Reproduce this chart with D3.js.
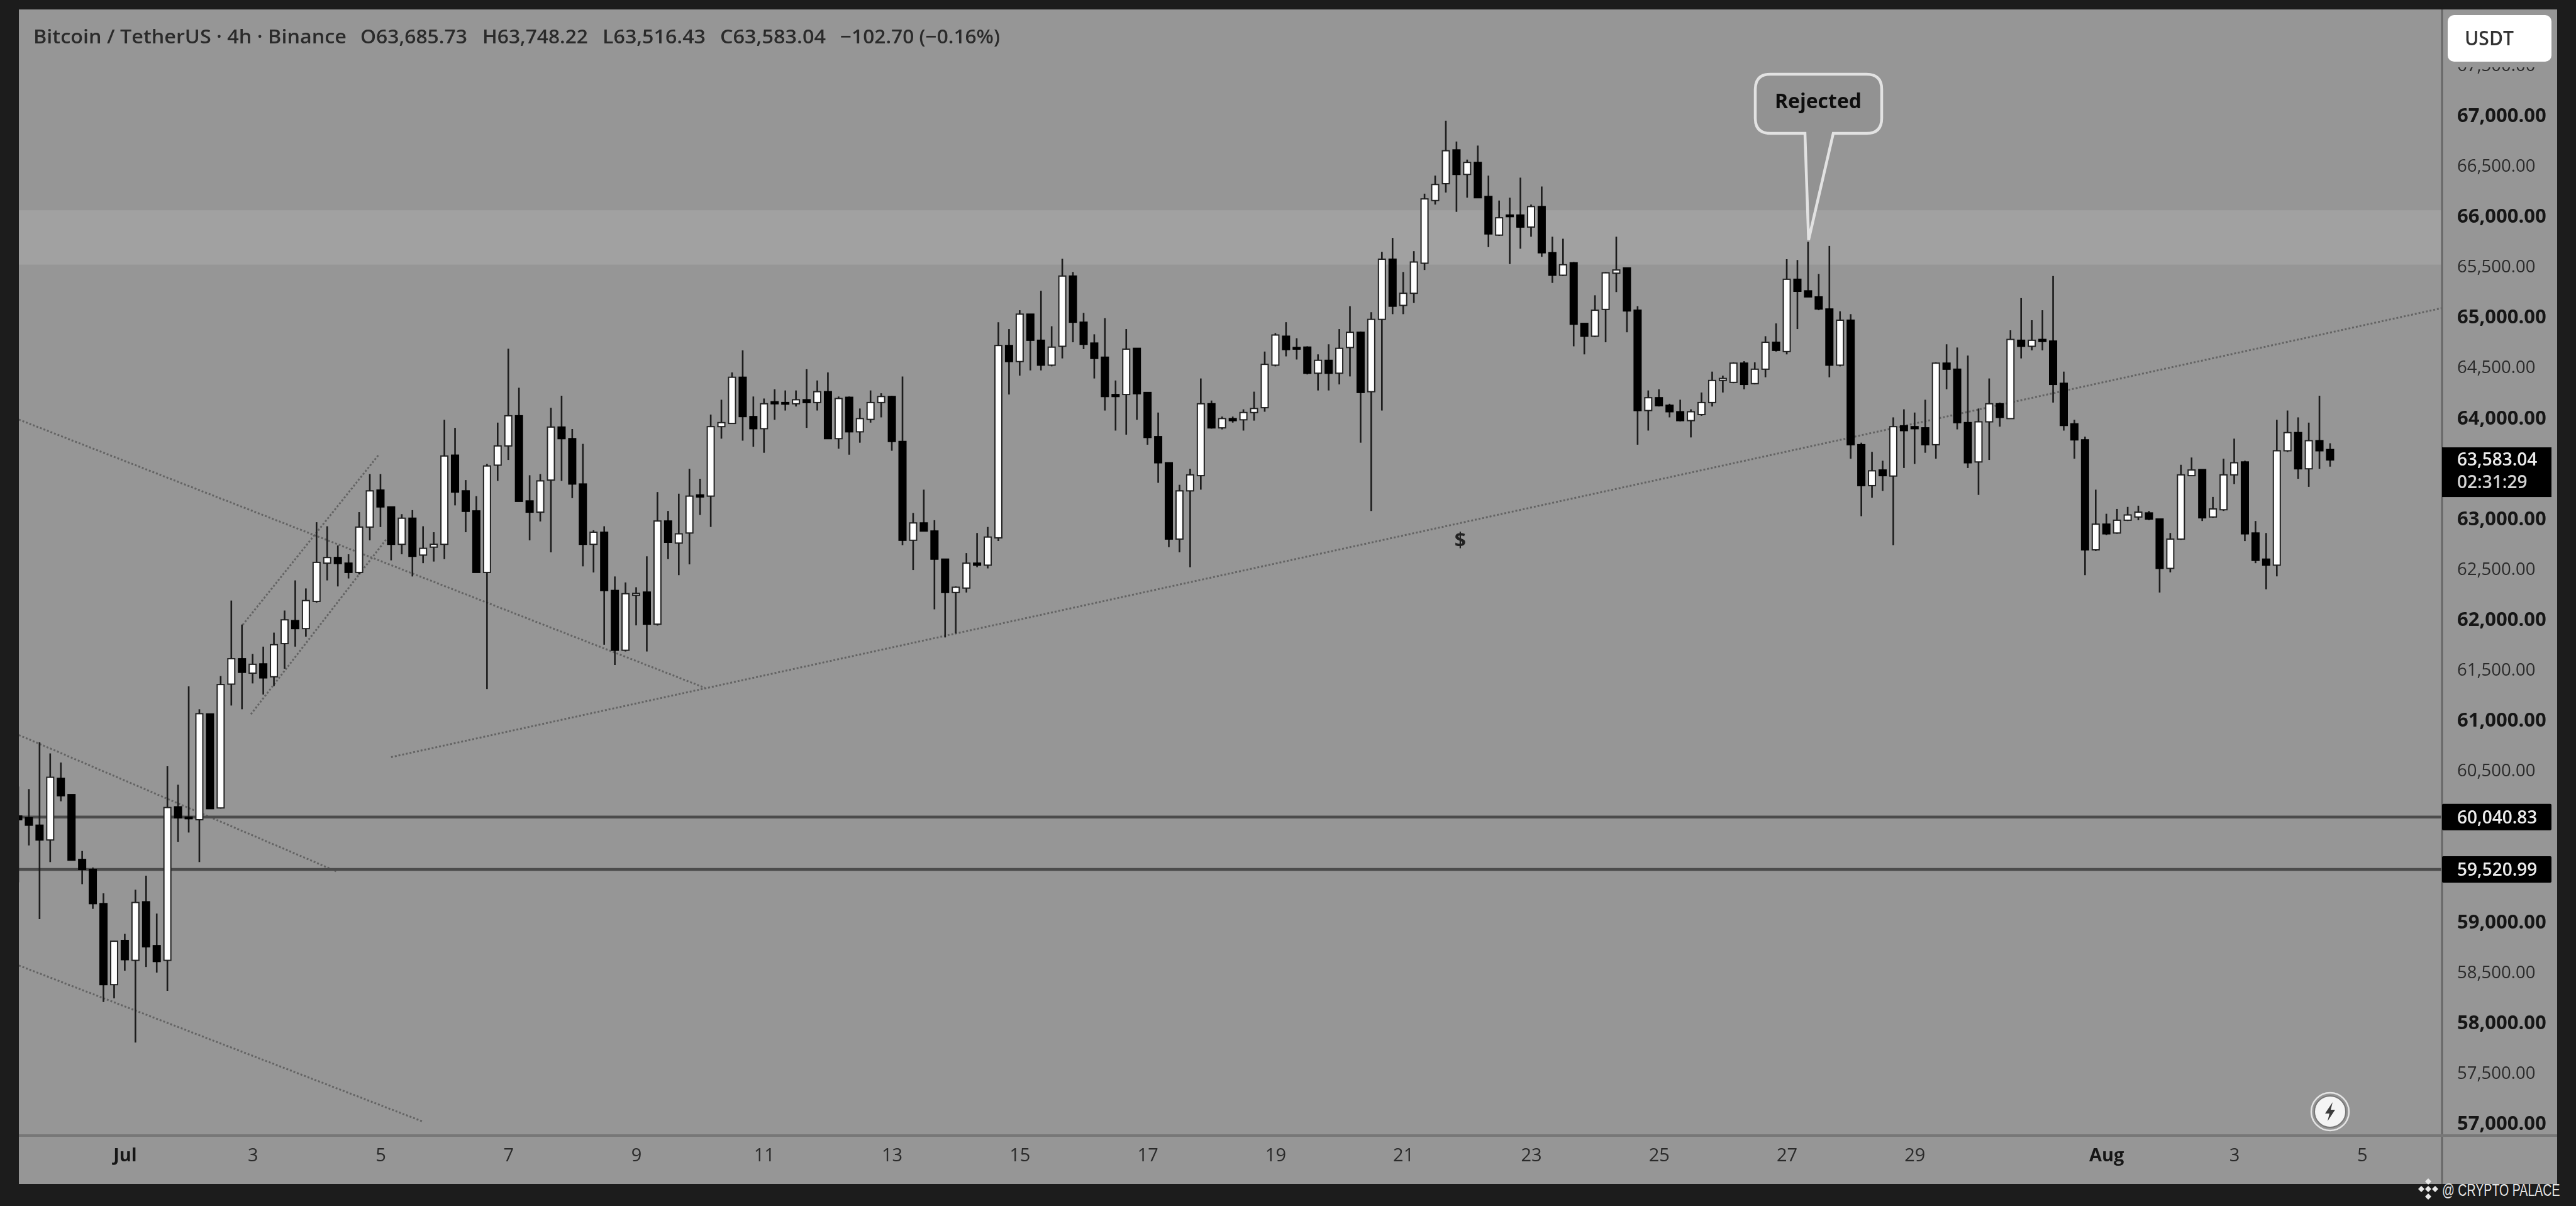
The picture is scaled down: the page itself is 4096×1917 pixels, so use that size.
<!DOCTYPE html>
<html>
<head>
<meta charset="utf-8">
<script src="https://cdn.jsdelivr.net/npm/d3@7"></script>
<style>
  html, body { margin: 0; padding: 0; background: #1c1c1c; overflow: hidden; }
  svg { display: block; }
  text { font-family: "Open Sans", "Noto Sans", sans-serif; }
</style>
</head>
<body>
<div id="chart"></div>
<script>
// 4h candles, first one is clipped by the left edge
const opens = [
  60051,60033,59960,59813,60424,60263,59620,59521,59182,58378,
  58816,58619,59200,58765,58619,60142,60040,60014,61063,60131,
  61359,61611,61468,61560,61432,61761,61989,61910,62180,62559,
  62615,62559,62467,62917,63284,63117,62746,63005,62639,62718,
  62746,63630,63276,63077,62467,63531,63722,64021,63176,63065,
  63383,63909,63794,63344,62746,62866,62288,61695,62241,62272,
  61954,62977,62758,62858,63236,63224,63913,63945,64403,64013,
  63893,64160,64152,64140,64180,64152,64260,63794,64204,63862,
  63985,64152,64212,63766,62786,62958,62878,62599,62268,62312,
  62559,62539,62810,64718,64559,65029,64770,64523,64710,65407,
  64949,64742,64602,64232,64232,64690,64252,63814,63555,62798,
  63276,63427,64140,63901,63993,63981,64053,64101,64523,64810,
  64698,64702,64443,64571,64443,64698,64849,64260,64977,65574,
  65116,65236,65534,66156,66323,66658,66415,66534,66196,65813,
  66012,66012,65893,66096,65638,65415,65538,64937,64810,65076,
  65435,65487,65068,64073,64200,64125,64061,63973,64033,64152,
  64371,64352,64543,64340,64483,64750,64658,65375,65260,65200,
  65080,64523,64969,63734,63328,63483,63423,63921,63913,63901,
  63734,64543,64483,63953,63563,63961,64140,63993,64770,64710,
  64778,64762,64343,63941,63782,62691,62946,62858,62985,63017,
  63057,62997,62507,62798,63427,63487,63017,63089,63435,63563,
  62858,62599,62539,63674,63854,63495,63774,63685.73
];
const highs = [
  60343,60318,60782,60672,60581,60263,59704,59540,59284,58816,
  58882,59320,59459,59083,60544,60361,61337,61110,61063,61439,
  62188,61950,61658,61731,61870,62089,62388,62308,62965,62925,
  62734,62647,63065,63443,63443,63117,63045,63085,62925,62866,
  63981,63901,63383,63224,63543,63953,64686,64299,63431,63443,
  64100,64220,63889,63742,62885,62925,62427,62368,62320,62627,
  63264,63077,63248,63495,63396,64033,64180,64451,64670,64212,
  64192,64284,64272,64272,64483,64371,64451,64212,64212,64093,
  64272,64244,64220,64411,63057,63288,62985,62599,62328,62659,
  62858,62918,64949,64881,65068,65029,65260,64909,65578,65447,
  65041,64829,64989,64371,64881,64690,64252,64053,63555,63336,
  63495,64391,64172,64013,64013,64085,64260,64658,64841,64949,
  64790,64710,64630,64730,64881,65108,64857,65049,65646,65785,
  65447,65654,66224,66403,66948,66741,66562,66701,66403,66156,
  66184,66383,66116,66295,65797,65777,65546,64937,65216,65447,
  65797,65487,65108,64272,64284,64140,64180,64085,64252,64459,
  64419,64551,64563,64551,64810,64937,65574,65566,65746,65427,
  65706,65057,65029,63754,63663,63575,64005,64085,64053,64180,
  64551,64730,64698,64618,64093,64391,64152,64869,65188,64969,
  65068,65407,64459,63981,63814,63288,63049,63097,63117,63129,
  63077,62997,62858,63535,63607,63487,63216,63595,63794,63575,
  62977,62858,63981,64073,64005,63953,64220,63748.22
];
const lows = [
  59393,59759,59028,59594,60197,59613,59375,59130,58206,58243,
  58517,57804,58553,58498,58316,59795,59887,59594,60124,60124,
  61147,61110,61366,61256,61340,61512,61731,61830,62168,62388,
  62328,62407,62447,62786,62917,62587,62647,62427,62559,62575,
  62599,63132,62866,62467,61311,63375,63583,63172,62786,62973,
  62666,63375,63204,62527,62467,61750,61549,61683,61942,61683,
  61940,62599,62440,62547,63037,62918,63794,63945,63774,63714,
  63654,63981,64073,64113,63901,64073,63794,63694,63635,63754,
  63953,64005,63674,62738,62491,62878,62101,61822,61862,62268,
  62519,62507,62778,64232,64419,64471,64471,64511,64590,64750,
  64682,64391,64073,63874,63834,63981,63734,63356,62718,62667,
  62519,63288,63893,63886,63953,63874,63973,64061,64511,64610,
  64579,64431,64272,64272,64332,64411,63754,63077,64073,65029,
  65029,65140,65467,66116,66235,66044,66184,66184,65694,65805,
  65526,65678,65797,65598,65339,65407,64710,64630,64802,64750,
  65248,64849,63734,63874,64113,64005,63965,63806,64021,64113,
  64252,64344,64284,64332,64403,64658,64630,64881,65200,65068,
  64403,64511,63595,63025,63208,63276,62738,63503,63543,63654,
  63595,64284,63886,63503,63236,63583,63913,63993,64590,64670,
  64670,64152,63874,63595,62440,62679,62838,62850,62977,62985,
  62985,62268,62468,62790,63423,62977,63009,63077,63344,62778,
  62559,62300,62428,63662,63396,63316,63495,63516.43
];
const closes = [
  60014,59960,59813,60435,60252,59613,59521,59182,58378,58809,
  58626,59193,58754,58608,60135,60033,60029,61066,60124,61355,
  61611,61476,61556,61421,61750,61997,61910,62188,62567,62615,
  62555,62467,62917,63276,63117,62746,63005,62627,62706,62746,
  63622,63264,63073,62467,63523,63722,64021,63172,63065,63375,
  63909,63794,63344,62746,62866,62288,61695,62256,62260,61954,
  62977,62766,62850,63224,63216,63913,63953,64403,64013,63893,
  64140,64140,64140,64180,64152,64260,63794,64192,63862,63993,
  64152,64212,63766,62786,62958,62878,62599,62268,62320,62559,
  62539,62818,64718,64559,65029,64770,64523,64702,65407,64949,
  64730,64590,64212,64212,64682,64240,63806,63555,62798,63276,
  63435,64140,63901,63993,63973,64053,64093,64531,64822,64678,
  64690,64443,64571,64443,64690,64849,64252,64977,65574,65108,
  65236,65546,66172,66315,66650,66415,66534,66184,65825,65985,
  65997,65893,66096,65638,65415,65519,64929,64810,65068,65439,
  65467,65061,64073,64200,64121,64061,63973,64061,64152,64371,
  64391,64543,64332,64483,64750,64670,65375,65256,65200,65080,
  64523,64969,63734,63328,63475,63427,63913,63874,63893,63734,
  64543,64483,63953,63555,63961,64140,64005,64778,64710,64770,
  64758,64332,63925,63782,62691,62946,62850,62985,63037,63065,
  62997,62507,62798,63435,63483,63009,63097,63435,63555,62850,
  62587,62539,63674,63854,63495,63774,63674,63583.04
];

// 63,500 / 60,000 / 59,500 sit under the price tags in the picture, so no label for them
const priceTicks = [57000, 57500, 58000, 58500, 59000, 60500, 61000, 61500, 62000, 62500, 63000,
  64000, 64500, 65000, 65500, 66000, 66500, 67000, 67500];
const dateTickBars = [10, 22, 34, 46, 58, 70, 82, 94, 106, 118, 130, 142, 154, 166, 178, 196, 208, 220];
const dateTickLabels = ["Jul", "3", "5", "7", "9", "11", "13", "15", "17", "19", "21", "23", "25", "27", "29", "Aug", "3", "5"];

const zoneTop = 66060, zoneBottom = 65520;
const levels = [60040.83, 59520.99];
// trendlines as [bar, price, bar, price]
const trendlines = [
  [0.06, 63983, 64.46, 61322],
  [0.06, 60854, 29.93, 59499],
  [0.06, 58568, 38.0, 57019],
  [35.0, 60635, 227.5, 65089],
  [21.07, 61947, 33.88, 63640],
  [21.84, 61060, 34.6, 62803]
];
const legendParts = [
  ["Bitcoin / TetherUS · 4h · Binance", 53, 498],
  ["O63,685.73", 573, 170],
  ["H63,748.22", 767, 168],
  ["L63,516.43", 958, 164],
  ["C63,583.04", 1145, 168],
  ["−102.70 (−0.16%)", 1336, 254]
];
const lastPrice = 63583.04, countdown = "02:31:29";
const calloutBar = 168.05, calloutTipPrice = 65765;

const width = 4096, height = 1917;
const panel = { left: 30, top: 15, right: 4066, bottom: 1882 };
const axisX = 3883, axisY = 1805;
const bodyWidth = 11;
const panelFill = "#969696";
const priceFormat = d3.format(",.2f");

const x = d3.scaleLinear().domain([0, 217]).range([29, 29 + 16.94 * 217]);
const y = d3.scaleLinear().domain([67000, 57000]).range([183.5, 1786]);

const candles = opens.map((o, i) => ({ i, o, h: highs[i], l: lows[i], c: closes[i] }));

const svg = d3.select("#chart").append("svg")
  .attr("width", width)
  .attr("height", height)
  .attr("viewBox", [0, 0, width, height]);

const defs = svg.append("defs");
defs.append("clipPath").attr("id", "plot-clip").append("rect")
  .attr("x", panel.left).attr("y", panel.top)
  .attr("width", axisX - panel.left).attr("height", axisY - panel.top);
// the source screenshot is soft, so soften everything a little
defs.append("filter").attr("id", "soft").append("feGaussianBlur").attr("stdDeviation", 0.75);

svg.append("rect").attr("width", width).attr("height", height).attr("fill", "#1c1c1c");

const root = svg.append("g").attr("filter", "url(#soft)");

root.append("rect")
  .attr("x", panel.left).attr("y", panel.top)
  .attr("width", panel.right - panel.left).attr("height", panel.bottom - panel.top)
  .attr("fill", panelFill);

const plot = root.append("g").attr("clip-path", "url(#plot-clip)");

plot.append("rect")
  .attr("x", panel.left).attr("width", axisX - panel.left)
  .attr("y", y(zoneTop)).attr("height", y(zoneBottom) - y(zoneTop))
  .attr("fill", "#a1a1a1");

plot.selectAll("line.trend").data(trendlines).join("line")
  .attr("class", "trend")
  .attr("x1", (d) => x(d[0])).attr("y1", (d) => y(d[1]))
  .attr("x2", (d) => x(d[2])).attr("y2", (d) => y(d[3]))
  .attr("stroke", "#646464")
  .attr("stroke-width", 3)
  .attr("stroke-dasharray", "3 3");

plot.selectAll("line.level").data(levels).join("line")
  .attr("class", "level")
  .attr("x1", panel.left).attr("x2", axisX)
  .attr("y1", (d) => y(d)).attr("y2", (d) => y(d))
  .attr("stroke", "#4c4c4c")
  .attr("stroke-width", 4.5);

const candle = plot.append("g").selectAll("g").data(candles).join("g")
  .attr("transform", (d) => `translate(${x(d.i)},0)`);

candle.append("line")
  .attr("y1", (d) => y(d.h)).attr("y2", (d) => y(d.l))
  .attr("stroke", "#1a1a1a")
  .attr("stroke-width", 2.6);

candle.append("rect")
  .attr("x", -bodyWidth / 2)
  .attr("width", bodyWidth)
  .attr("y", (d) => y(Math.max(d.o, d.c)))
  .attr("height", (d) => Math.max(2.5, Math.abs(y(d.o) - y(d.c))))
  .attr("fill", (d) => (d.c >= d.o ? "#fff" : "#000"))
  .attr("stroke", (d) => (d.c >= d.o ? "#222" : "#000"))
  .attr("stroke-width", 2);

// separators
root.append("line").attr("x1", axisX).attr("x2", axisX).attr("y1", panel.top).attr("y2", panel.bottom)
  .attr("stroke", "#666").attr("stroke-width", 3);
root.append("line").attr("x1", panel.left).attr("x2", panel.right).attr("y1", axisY).attr("y2", axisY)
  .attr("stroke", "#777").attr("stroke-width", 4);

// price axis
const priceAxis = root.append("g")
  .attr("transform", `translate(${axisX},0)`)
  .call(d3.axisRight(y).tickValues(priceTicks).tickSize(0).tickPadding(24).tickFormat(priceFormat));
priceAxis.select(".domain").remove();
priceAxis.selectAll("text")
  .attr("fill", (d) => (d % 1000 === 0 ? "#151515" : "#2a2a2a"))
  .style("font-weight", (d) => (d % 1000 === 0 ? 700 : 500))
  .style("font-size", (d) => (d % 1000 === 0 ? "31px" : "27.5px"));

// time axis
const timeAxis = root.append("g")
  .attr("transform", `translate(0,${axisY})`)
  .call(d3.axisBottom(x).tickValues(dateTickBars).tickSize(0).tickPadding(20)
    .tickFormat((d) => dateTickLabels[dateTickBars.indexOf(d)]));
timeAxis.select(".domain").remove();
timeAxis.selectAll("text")
  .attr("fill", (d) => (d === 10 || d === 196 ? "#151515" : "#2a2a2a"))
  .style("font-weight", (d) => (d === 10 || d === 196 ? 700 : 500))
  .style("font-size", "29px");

// legend
root.selectAll("text.legend").data(legendParts).join("text")
  .attr("class", "legend")
  .attr("x", (d) => d[1])
  .attr("y", 69)
  .attr("textLength", (d) => d[2])
  .attr("lengthAdjust", "spacingAndGlyphs")
  .attr("fill", "#2c2c2c")
  .style("font-size", "31px")
  .style("font-weight", 600)
  .text((d) => d[0]);

// price tags on the axis
const tags = root.append("g");
tags.selectAll("g").data(levels).join("g").each(function (d) {
  const g = d3.select(this);
  g.append("rect").attr("x", axisX).attr("width", 174).attr("y", y(d) - 21).attr("height", 42).attr("rx", 2).attr("fill", "#000");
  g.append("text").attr("x", axisX + 24).attr("y", y(d) + 10).attr("fill", "#ececec")
    .style("font-size", "28px").style("font-weight", 600).text(priceFormat(d));
});
const lastBoxY = y(lastPrice) - 20;
tags.append("rect").attr("x", axisX).attr("width", 174).attr("y", lastBoxY).attr("height", 79).attr("fill", "#000");
tags.append("text").attr("x", axisX + 24).attr("y", lastBoxY + 29).attr("fill", "#ececec").style("font-size", "28px").style("font-weight", 600).text(priceFormat(lastPrice));
tags.append("text").attr("x", axisX + 24).attr("y", lastBoxY + 65).attr("fill", "#d4d4d4").style("font-size", "28px").style("font-weight", 600).text(countdown);

// USDT button hides most of the top label, only a sliver stays visible below it
root.append("rect").attr("x", axisX + 2).attr("y", panel.top).attr("width", panel.right - axisX - 2).attr("height", 92).attr("fill", panelFill);
root.append("rect").attr("x", 3892).attr("y", 24).attr("width", 165).attr("height", 74).attr("rx", 10).attr("fill", "#fff");
root.append("text").attr("x", 3919).attr("y", 72).attr("fill", "#333")
  .attr("textLength", 78).attr("lengthAdjust", "spacingAndGlyphs")
  .style("font-size", "32px").style("font-weight", 600).text("USDT");

// Rejected callout
const tipX = x(calloutBar), tipY = y(calloutTipPrice);
root.append("path")
  .attr("d", `M2815,118 H2968 Q2992,118 2992,142 V188 Q2992,212 2968,212 H2915 L${tipX},${tipY} L2870,212 H2815 Q2791,212 2791,188 V142 Q2791,118 2815,118 Z`)
  .attr("fill", "#8f8f8f")
  .attr("fill-opacity", 0.55)
  .attr("stroke", "#e2e2e2")
  .attr("stroke-width", 4.5);
root.append("text").attr("x", 2891).attr("y", 172).attr("text-anchor", "middle")
  .attr("fill", "#0f0f0f").style("font-size", "32px").style("font-weight", 700).text("Rejected");

// marker under the trendline
root.append("text").attr("x", 2322).attr("y", 870).attr("text-anchor", "middle")
  .attr("fill", "#222").style("font-size", "32px").style("font-weight", 700).text("$");

// lightning button
const bolt = root.append("g").attr("transform", "translate(3705,1767)");
bolt.append("circle").attr("r", 30).attr("fill", "none").attr("stroke", "#e4e4e4").attr("stroke-width", 2.5);
bolt.append("circle").attr("r", 25).attr("fill", "#f4f4f4").attr("stroke", "#777").attr("stroke-width", 2);
bolt.append("path").attr("d", "M4,-15 L-8,3 L-1,3 L-4,15 L8,-3 L1,-3 Z").attr("fill", "#3a3a3a");

// watermark, drawn outside the soft group
const mark = svg.append("g").attr("transform", "translate(3861,1890)");
mark.selectAll("path").data([[0, -12], [-11, 0], [11, 0], [0, 12], [0, 0]]).join("path")
  .attr("transform", (d) => `translate(${d[0]},${d[1]})`)
  .attr("d", "M0,-5 L5,0 L0,5 L-5,0 Z")
  .attr("fill", "#e8e8e8");
svg.append("text")
  .attr("transform", "translate(3883,1901) scale(0.7,1)")
  .attr("fill", "#e4e4e4")
  .style("font-family", "'Liberation Sans', sans-serif")
  .style("font-size", "28px")
  .text("@ CRYPTO PALACE");
</script>
</body>
</html>
